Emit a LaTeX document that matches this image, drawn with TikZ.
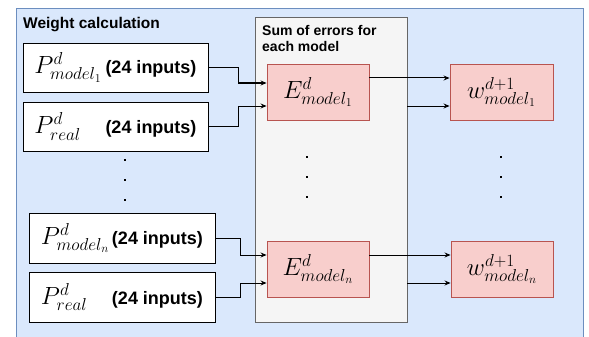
\documentclass[tikz,border=0pt]{standalone}
\usepackage{fontspec}
\setmainfont{Liberation Sans}
\usetikzlibrary{arrows.meta,calc}
\definecolor{bluef}{HTML}{DAE8FC}
\definecolor{blued}{HTML}{6C8EBF}
\definecolor{grayf}{HTML}{F5F5F5}
\definecolor{grayd}{HTML}{666666}
\definecolor{redf}{HTML}{F8CECC}
\definecolor{redd}{HTML}{B85450}
\newcommand{\pin}[1]{\makebox[71pt][l]{\fontsize{24}{26}\selectfont$#1$}{\fontsize{18}{20}\selectfont\bfseries (24 inputs)}}
\begin{document}
\begin{tikzpicture}[x=1pt,y=-1pt,
  inbox/.style={draw=black,fill=white,line width=0.9pt,minimum width=185pt,minimum height=49pt,inner sep=0pt},
  redbox/.style={draw=redd,fill=redf,line width=0.9pt,minimum width=102pt,minimum height=56pt,inner sep=0pt,font=\fontsize{23}{25}\selectfont},
  arr/.style={line width=1pt,-{Stealth[length=6pt,width=5pt]}},
  dotm/.style={fill=black}
]
\useasboundingbox (0,0) rectangle (589,337);
\clip (0,0) rectangle (589,337);
\fill[white] (0,0) rectangle (589,337);
\draw[draw=blued,fill=bluef,line width=0.9pt] (16,8) rectangle (583,345);
\node[anchor=base west,font=\fontsize{15.5}{17}\selectfont\bfseries,inner sep=0pt] (t1) at (23,29) {Weight calculation};
\node[draw=grayd,fill=grayf,line width=0.9pt,minimum width=152pt,minimum height=305pt,inner sep=0pt] (g) at (331,169.5) {};
\node[anchor=north west,font=\fontsize{14}{16}\selectfont\bfseries,inner sep=0pt,align=left] (t2) at (262,25) {Sum of errors for\\each model};
\node[inbox] (p1) at (115.5,67.5) {\pin{P^{d}_{model_1}}};
\node[inbox] (p2) at (115.5,126.5) {\pin{P^{d}_{real}}};
\node[inbox,minimum width=186pt,minimum height=50pt] (p3) at (122,238) {\pin{P^{d}_{model_n}}};
\node[inbox,minimum width=186pt,minimum height=50pt] (p4) at (122,297) {\pin{P^{d}_{real}}};
\node[redbox] (e1) at (318,92) {$E^{d}_{model_1}$};
\node[redbox] (en) at (318,269) {$E^{d}_{model_n}$};
\node[redbox,minimum width=103pt,font=\fontsize{25}{27}\selectfont] (w1) at (501.5,92) {$w^{d+1}_{model_1}$};
\node[redbox,font=\fontsize{25}{27}\selectfont] (wn) at (502,269) {$w^{d+1}_{model_n}$};
\foreach \y in {160,180,200} \fill[dotm] (123.8,\y-1.2) rectangle ++(2.5,2.5);
\foreach \y in {157,177,197} {\fill[dotm] (305.8,\y-1.2) rectangle ++(2.5,2.5);
  \fill[dotm] (499.8,\y-1.2) rectangle ++(2.5,2.5);}
\draw[arr] (p1.east) -- ++(30,0) |- ($(e1.west)+(0,-9)$);
\draw[arr] (p2.east) -- ++(30,0) |- ($(e1.west)+(0,14)$);
\draw[arr] (p3.east) -- ++(25,0) |- ($(en.west)+(0,-14)$);
\draw[arr] (p4.east) -- ++(25,0) |- ($(en.west)+(0,14)$);
\draw[arr] ($(e1.east)+(0,-14)$) -- ($(w1.west)+(0,-14)$);
\draw[arr] ($(g.east |- w1.west)+(0,14)$) -- ($(w1.west)+(0,14)$);
\draw[arr] ($(en.east)+(0,-14)$) -- ($(wn.west)+(0,-14)$);
\draw[arr] ($(g.east |- wn.west)+(0,14)$) -- ($(wn.west)+(0,14)$);
\end{tikzpicture}
\end{document}
